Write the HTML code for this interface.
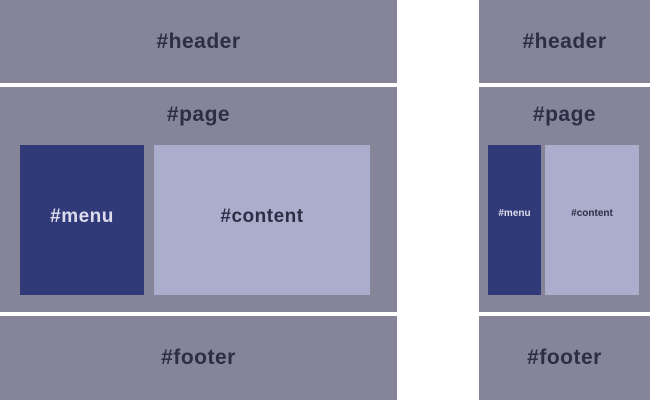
<!DOCTYPE html>
<html><head><style>
body{margin:0;width:650px;height:400px;background:#fff;position:relative;overflow:hidden;font-family:"Liberation Sans",sans-serif;font-weight:bold}
div{position:absolute;display:flex;align-items:center;justify-content:center;color:#2e2d45;letter-spacing:0.5px}
.g{background:#858499}
.m{background:#313a78;color:#dcdcec}
.c{background:#abadcc}
</style></head><body>
<div class="g" style="left:0;top:0;width:397px;height:83px"></div>
<div style="left:0;top:27px;width:397px;height:30px;font-size:21px">#header</div>
<div class="g" style="left:0;top:87px;width:397px;height:225px"></div>
<div style="left:0;top:100px;width:397px;height:30px;font-size:21px">#page</div>
<div class="m" style="left:20px;top:145px;width:124px;height:150px;font-size:19px;padding-bottom:6px;box-sizing:border-box">#menu</div>
<div class="c" style="left:154px;top:145px;width:216px;height:150px;font-size:19px;padding-bottom:6px;box-sizing:border-box">#content</div>
<div class="g" style="left:0;top:316px;width:397px;height:84px;font-size:21px">#footer</div>

<div class="g" style="left:479px;top:0;width:171px;height:83px"></div>
<div style="left:479px;top:27px;width:171px;height:30px;font-size:21px">#header</div>
<div class="g" style="left:479px;top:87px;width:171px;height:225px"></div>
<div style="left:479px;top:100px;width:171px;height:30px;font-size:21px">#page</div>
<div class="m" style="left:488px;top:145px;width:53px;height:150px;font-size:10px;padding-bottom:14px;box-sizing:border-box;letter-spacing:0">#menu</div>
<div class="c" style="left:545px;top:145px;width:94px;height:150px;font-size:10px;padding-bottom:14px;box-sizing:border-box;letter-spacing:0">#content</div>
<div class="g" style="left:479px;top:316px;width:171px;height:84px;font-size:21px">#footer</div>
</body></html>
